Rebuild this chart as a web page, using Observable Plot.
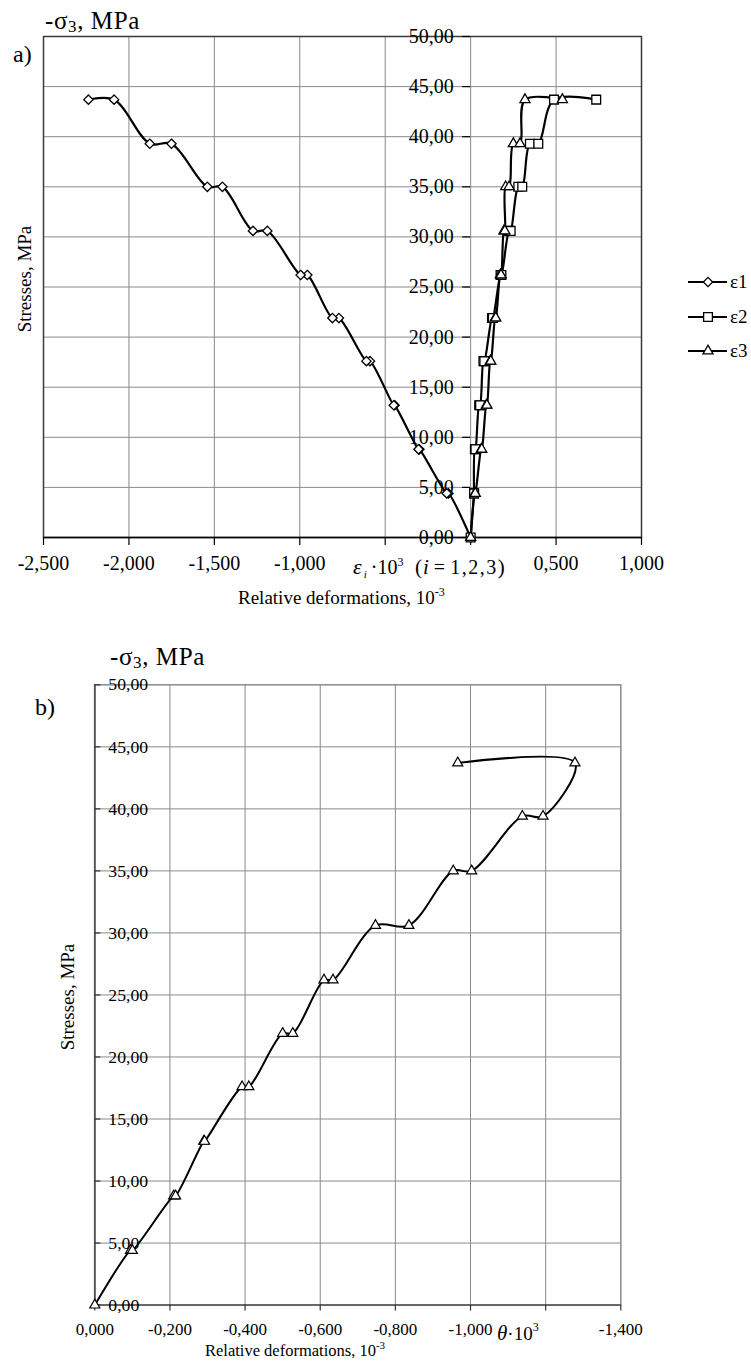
<!DOCTYPE html>
<html><head><meta charset="utf-8">
<script src="https://cdn.jsdelivr.net/npm/d3@7"></script>
<script src="https://cdn.jsdelivr.net/npm/@observablehq/plot@0.6"></script>
<style>
body{margin:0;background:#fff;}
#page{position:relative;width:751px;height:1364px;overflow:hidden;background:#fff;}
#page svg{position:absolute;left:0;}
</style></head><body><div id="page"></div>
<script>
// ---------- data (chart a) ----------
const stressA = [0, 4.4, 4.4, 8.8, 8.8, 13.2, 13.2, 17.6, 17.6, 21.9, 21.9, 26.2, 26.2, 30.6, 30.6, 35.0, 35.0, 39.3, 39.3, 43.7, 43.7];
const eps1 = [0.0, -0.13, -0.14, -0.30, -0.305, -0.445, -0.45, -0.589, -0.61, -0.771, -0.809, -0.956, -0.995, -1.19, -1.274, -1.453, -1.541, -1.751, -1.878, -2.087, -2.237];
const eps2 = [0.0, 0.02, 0.02, 0.025, 0.028, 0.05, 0.055, 0.075, 0.08, 0.125, 0.13, 0.175, 0.18, 0.225, 0.234, 0.279, 0.302, 0.347, 0.396, 0.488, 0.735];
const eps3 = [0.0, 0.025, 0.027, 0.062, 0.065, 0.092, 0.095, 0.115, 0.118, 0.144, 0.147, 0.174, 0.178, 0.195, 0.2, 0.205, 0.225, 0.25, 0.289, 0.318, 0.537];
const seriesNames = ["ε1", "ε2", "ε3"];
const xTicksA = [-2.5, -2.0, -1.5, -1.0, -0.5, 0.0, 0.5, 1.0];
const xTickLabelsA = [-2.5, -2.0, -1.5, -1.0, 0.5, 1.0];
const yTicks = [0, 5, 10, 15, 20, 25, 30, 35, 40, 45, 50];

// ---------- data (chart b) ----------
const stressB = [0, 4.4, 4.4, 8.8, 8.8, 13.2, 13.2, 17.6, 17.6, 21.9, 21.9, 26.2, 26.2, 30.6, 30.6, 35.0, 35.0, 39.4, 39.4, 43.7, 43.7];
const theta = [0.0, -0.095, -0.10, -0.21, -0.215, -0.29, -0.292, -0.392, -0.41, -0.50, -0.527, -0.61, -0.634, -0.747, -0.836, -0.954, -1.003, -1.138, -1.193, -1.278, -0.966];
const xTicksB = [0.0, -0.2, -0.4, -0.6, -0.8, -1.0, -1.2, -1.4];
const xTickLabelsB = [0.0, -0.2, -0.4, -0.6, -0.8, -1.0, -1.4];

// ---------- helpers ----------
const serif = '"Liberation Serif","Times New Roman",serif';
const comma = (spec) => (v) => d3.format(spec)(v).replace(".", ",").replace("\u2212", "-");
const fmt3 = comma(".3f");
const fmt2 = comma(".2f");
const gridColor = "#8a8a8a";

const rowsA = stressA.map((s, i) => ({s, e1: eps1[i], e2: eps2[i], e3: eps3[i]}));
const rowsB = stressB.map((s, i) => ({s, t: theta[i]}));

const page = document.getElementById("page");

function addText(sel, x, y, size, parts, opts = {}) {
  const t = sel.append("text").attr("x", x).attr("y", y)
    .attr("font-family", serif).attr("font-size", size).attr("fill", "#000")
    .attr("text-anchor", opts.anchor || "start");
  if (opts.spacing) t.attr("letter-spacing", opts.spacing);
  if (opts.rotate) t.attr("transform", `rotate(${opts.rotate},${x},${y})`);
  for (const p of parts) {
    const s = t.append("tspan").text(p.t);
    if (p.size) s.attr("font-size", p.size);
    if (p.dx) s.attr("dx", p.dx);
    if (p.dy) s.attr("dy", p.dy);
    if (p.italic) s.attr("font-style", "italic");
    if (p.spacing) s.attr("letter-spacing", p.spacing);
  }
  return t;
}

// ================= chart a =================
const svgA = Plot.plot({
  width: 751, height: 640,
  marginLeft: 43, marginRight: 110, marginTop: 36, marginBottom: 103,
  style: {fontFamily: serif, background: "transparent", overflow: "visible", color: "#000"},
  x: {domain: [-2.5, 1.0], axis: null},
  y: {domain: [0, 50], axis: null},
  marks: [
    Plot.ruleX(xTicksA, {x: d => d, stroke: gridColor, strokeWidth: 1}),
    Plot.ruleY(yTicks, {y: d => d, stroke: gridColor, strokeWidth: 1}),
    Plot.frame({stroke: "#3a3a3a", strokeWidth: 1.5}),
    Plot.ruleY([0], {y: d => d, stroke: "#000", strokeWidth: 1.5}),
    Plot.ruleX(xTicksA, {x: d => d, y1: 0, y2: 0, insetBottom: -8, stroke: "#000", strokeWidth: 1.2}),
    Plot.ruleY(yTicks, {y: d => d, x1: 0, x2: 0, insetLeft: -8, stroke: "#000", strokeWidth: 1.2}),
    Plot.text(yTicks, {x: 0, y: d => d, text: fmt2, textAnchor: "end", dx: -17, fontSize: 20, fill: "#000"}),
    Plot.text(xTickLabelsA, {x: d => d, frameAnchor: "bottom", dy: 32, text: fmt3, fontSize: 20, fill: "#000"}),
    Plot.line(rowsA, {x: "e1", y: "s", curve: "catmull-rom", stroke: "#000", strokeWidth: 2.2}),
    Plot.line(rowsA, {x: "e2", y: "s", curve: "catmull-rom", stroke: "#000", strokeWidth: 2.2}),
    Plot.line(rowsA, {x: "e3", y: "s", curve: "catmull-rom", stroke: "#000", strokeWidth: 2.2}),
    Plot.dot(rowsA, {x: "e1", y: "s", symbol: "diamond2", r: 4.2, fill: "#fff", stroke: "#000", strokeWidth: 1.3}),
    Plot.dot(rowsA, {x: "e2", y: "s", symbol: "square2", r: 5.6, fill: "#fff", stroke: "#000", strokeWidth: 1.3}),
    Plot.dot(rowsA, {x: "e3", y: "s", symbol: "triangle2", r: 4.8, fill: "#fff", stroke: "#000", strokeWidth: 1.3})
  ]
});
svgA.style.top = "0px";
page.appendChild(svgA);

const A = d3.select(svgA);
addText(A, 45, 29, 25, [{t: "-σ"}, {t: "3", size: 17, dy: 3}, {t: ", MPa", dy: -3}], {spacing: 0.6});
addText(A, 13, 62, 24, [{t: "a)"}]);
addText(A, 31, 279, 19, [{t: "Stresses, MPa"}], {anchor: "middle", rotate: -90});
// axis formula label, in two pieces
addText(A, 353, 574, 22, [
  {t: "ε", italic: true},
  {t: "i", italic: true, size: 11, dx: 2, dy: 4},
  {t: "·10", size: 20, dx: 4, dy: -4},
  {t: "3", size: 12, dy: -8}
]);
addText(A, 415, 574, 20, [
  {t: "(", size: 21},
  {t: "i", italic: true, size: 21, dx: 1},
  {t: " = ", size: 20},
  {t: "1,2,3", spacing: 1.5},
  {t: ")", size: 21}
]);
addText(A, 238, 604, 19, [{t: "Relative deformations, 10"}, {t: "-3", size: 12, dy: -8}]);

// legend
const legendSyms = [d3.symbolDiamond2, d3.symbolSquare2, d3.symbolTriangle2];
const legendR = [4.2, 5.6, 4.8];
const legendY = [282, 317, 351];
seriesNames.forEach((name, i) => {
  const g = A.append("g");
  g.append("line").attr("x1", 688).attr("x2", 727).attr("y1", legendY[i]).attr("y2", legendY[i])
    .attr("stroke", "#000").attr("stroke-width", 2.2);
  g.append("path").attr("d", d3.symbol(legendSyms[i], Math.PI * legendR[i] * legendR[i])())
    .attr("transform", `translate(708,${legendY[i]})`)
    .attr("fill", "#fff").attr("stroke", "#000").attr("stroke-width", 1.3);
  addText(g, 730, legendY[i] + 6, 19, [{t: name}]);
});

// ================= chart b =================
const svgB = Plot.plot({
  width: 751, height: 724,
  marginLeft: 94.3, marginRight: 130.7, marginTop: 44.3, marginBottom: 59.4,
  style: {fontFamily: serif, background: "transparent", overflow: "visible", color: "#000"},
  x: {domain: [0, -1.4], axis: null},
  y: {domain: [0, 50], axis: null},
  marks: [
    Plot.ruleX(xTicksB, {x: d => d, stroke: gridColor, strokeWidth: 1}),
    Plot.ruleY(yTicks, {y: d => d, stroke: gridColor, strokeWidth: 1}),
    Plot.frame({stroke: gridColor, strokeWidth: 1.2}),
    Plot.ruleX([0], {x: d => d, stroke: "#555", strokeWidth: 1.8}),
    Plot.ruleY([0], {y: d => d, stroke: "#555", strokeWidth: 1.5}),
    Plot.ruleY(yTicks, {y: d => d, x1: 0, x2: 0, insetRight: -6, stroke: "#333", strokeWidth: 1.2}),
    Plot.ruleX(xTicksB, {x: d => d, y1: 0, y2: 0, insetBottom: -6, stroke: "#333", strokeWidth: 1.2}),
    Plot.text(yTicks, {x: 0, y: d => d, text: fmt2, textAnchor: "start", dx: 13.5, fontSize: 17.7, fill: "#000"}),
    Plot.text(xTickLabelsB, {x: d => d, frameAnchor: "bottom", dy: 30, text: fmt3, fontSize: 17, fill: "#000"}),
    Plot.line(rowsB, {x: "t", y: "s", curve: "catmull-rom", stroke: "#000", strokeWidth: 2}),
    Plot.dot(rowsB, {x: "t", y: "s", symbol: "triangle2", r: 4.8, fill: "#fff", stroke: "#000", strokeWidth: 1.2})
  ]
});
svgB.style.top = "640px";
page.appendChild(svgB);

const B = d3.select(svgB);
addText(B, 110, 25, 25, [{t: "-σ"}, {t: "3", size: 17, dy: 3}, {t: ", MPa", dy: -3}], {spacing: 0.6});
addText(B, 35, 75, 24, [{t: "b)"}]);
addText(B, 74, 357, 19, [{t: "Stresses, MPa"}], {anchor: "middle", rotate: -90});
addText(B, 497, 700, 21, [{t: "θ", italic: true}, {t: "·10", size: 19}, {t: "3", size: 12, dy: -9}]);
addText(B, 205, 716, 16.5, [{t: "Relative deformations, 10"}, {t: "-3", size: 11, dy: -7}]);
</script></body></html>
